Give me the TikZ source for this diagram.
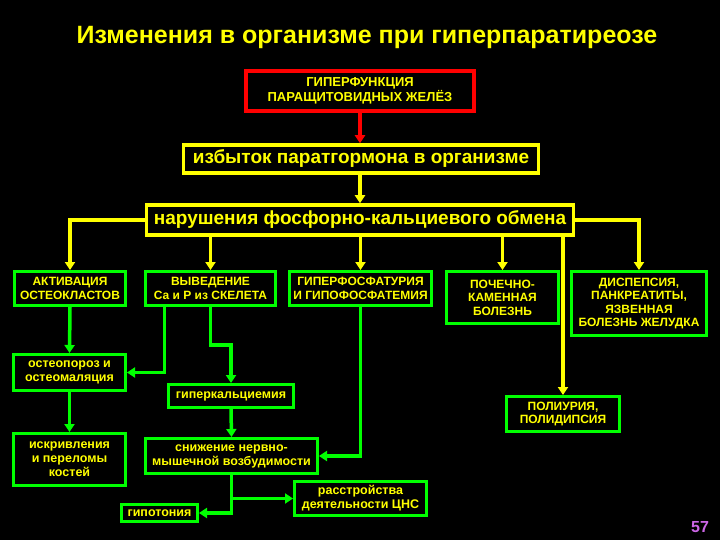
\documentclass[tikz,border=0pt]{standalone}
\usepackage{fontspec}
\setmainfont{Liberation Sans}
\usetikzlibrary{arrows.meta,positioning,calc}
\definecolor{SlideYellow}{RGB}{255,255,0}
\definecolor{SlideGreen}{RGB}{0,255,0}
\definecolor{SlideRed}{RGB}{255,0,0}
\definecolor{PageViolet}{RGB}{204,102,230}
\tikzset{
  rbox/.style={draw=SlideRed,line width=4.5pt,text=SlideYellow,align=center,
               inner sep=0pt,font=\fontsize{13}{15.5}\selectfont\bfseries},
  ybox/.style={draw=SlideYellow,line width=3.5pt,text=SlideYellow,align=center,
               inner sep=0pt,font=\fontsize{19}{22}\selectfont\bfseries},
  gbox/.style={draw=SlideGreen,line width=3pt,text=SlideYellow,align=center,
               inner sep=0pt,font=\fontsize{12}{13.6}\selectfont\bfseries},
  lbox/.style={gbox,font=\fontsize{12.5}{14}\selectfont\bfseries},
  rarr/.style={-{Triangle[length=8pt,width=10pt]},SlideRed,line width=3.5pt},
  yarr/.style={-{Triangle[length=8pt,width=10pt]},SlideYellow,line width=3.5pt},
  garr/.style={-{Triangle[length=8pt,width=10pt]},SlideGreen,line width=3.5pt},
}

\begin{document}
\begin{tikzpicture}[x=1pt,y=-1pt]
    \fill[black] (0,0) rectangle (720,540);
    \useasboundingbox (0,0) rectangle (720,540);
    \node[text=SlideYellow,font=\fontsize{25}{30}\selectfont\bfseries] (title) at (367,37) {Изменения в организме при гиперпаратиреозе};
    % top chain
    \node[rbox,minimum width=228pt,minimum height=40pt] (hpf) at (360,91) {ГИПЕРФУНКЦИЯ\\ПАРАЩИТОВИДНЫХ ЖЕЛЁЗ};
    \node[ybox,minimum width=355pt,minimum height=28pt] (izb) at (361,159) {избыток паратгормона в организме};
    \node[ybox,minimum width=427pt,minimum height=30pt] (nar) at (360,220) {нарушения фосфорно-кальциевого обмена};
    % first row
    \node[gbox,minimum width=111pt,minimum height=34pt] (act) at (70,288.5) {АКТИВАЦИЯ\\ОСТЕОКЛАСТОВ};
    \node[gbox,minimum width=130pt,minimum height=34pt] (vyv) at (210.5,288.5) {ВЫВЕДЕНИЕ\\Ca и P из СКЕЛЕТА};
    \node[gbox,minimum width=142pt,minimum height=34pt] (hfos) at (360.5,288.5) {ГИПЕРФОСФАТУРИЯ\\И ГИПОФОСФАТЕМИЯ};
    \node[gbox,minimum width=112pt,minimum height=52pt] (poch) at (502.5,297.5) {ПОЧЕЧНО-\\КАМЕННАЯ\\БОЛЕЗНЬ};
    \node[gbox,minimum width=135pt,minimum height=64pt] (disp) at (639,303.5) {ДИСПЕПСИЯ,\\ПАНКРЕАТИТЫ,\\ЯЗВЕННАЯ\\БОЛЕЗНЬ ЖЕЛУДКА};
    % lower boxes
    \node[lbox,minimum width=112pt,minimum height=36pt] (ost) at (69.5,372.5) {остеопороз и\\остеомаляция};
    \node[lbox,minimum width=112pt,minimum height=52pt] (isk) at (69.5,459.5) {искривления\\и переломы\\костей};
    \node[lbox,minimum width=125pt,minimum height=23pt] (hyp) at (231,396) {гиперкальциемия};
    \node[lbox,minimum width=172pt,minimum height=35pt] (sniz) at (231.5,456) {снижение нервно-\\мышечной возбудимости};
    \node[lbox,minimum width=76pt,minimum height=17pt] (gipo) at (159.5,513) {гипотония};
    \node[lbox,minimum width=132pt,minimum height=34pt] (cns) at (360.5,498.5) {расстройства\\деятельности ЦНС};
    \node[gbox,minimum width=113pt,minimum height=35pt] (pol) at (563,414) {ПОЛИУРИЯ,\\ПОЛИДИПСИЯ};
    \node[text=PageViolet,font=\fontsize{16}{19}\selectfont\bfseries] (page) at (700,527) {57};
    % connectors
    \draw[rarr] (hpf.south) -- (hpf.south |- izb.north);
    \draw[yarr] (nar.north |- izb.south) -- (nar.north);
    \draw[yarr] (nar.west) -| (act.north);
    \draw[yarr] (nar.east) -| (disp.north);
    \draw[yarr] (nar.south -| vyv.north) -- (vyv.north);
    \draw[yarr] (nar.south -| hfos.north) -- (hfos.north);
    \draw[yarr] (nar.south -| poch.north) -- (poch.north);
    \draw[yarr] (nar.south -| pol.north) -- (pol.north);
    \draw[garr] (act.south) -- (ost.north);
    \draw[garr] ([xshift=-46pt]vyv.south) |- (ost.east);
    \draw[garr] (vyv.south) -- ++(0,38) -| (hyp.north);
    \draw[garr] (ost.south) -- (isk.north);
    \draw[garr] (hyp.south) -- (sniz.north);
    \draw[garr] (hfos.south) |- (sniz.east);
    \draw[garr] (sniz.south) |- (cns.west);
    \draw[garr] (sniz.south) |- (gipo.east);
\end{tikzpicture}
\end{document}
